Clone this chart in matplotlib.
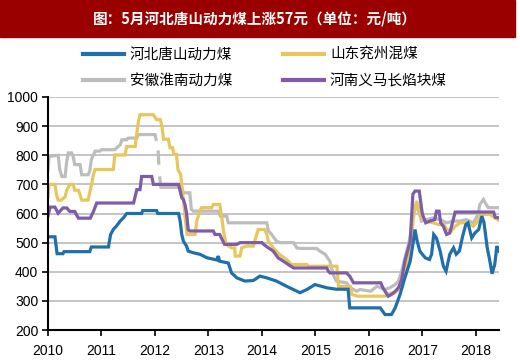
import numpy as np
import matplotlib
matplotlib.use("Agg")
import matplotlib.pyplot as plt
from matplotlib.patches import Rectangle

plt.rcParams['font.family'] = ['Liberation Sans', 'Noto Sans CJK SC', 'DejaVu Sans']

nan = np.nan

# 河北唐山动力煤
t_tangshan = [2010.00, 2010.13, 2010.17, 2010.28, 2010.30, 2010.78, 2010.81, 2011.13, 2011.17,
              2011.22, 2011.28, 2011.35, 2011.41, 2011.47, 2011.75, 2011.77, 2012.03, 2012.05,
              2012.44, 2012.47, 2012.50, 2012.53, 2012.59, 2012.62, 2012.72, 2012.84, 2012.97,
              2013.12, 2013.16, 2013.18, 2013.21, 2013.37, 2013.43, 2013.53, 2013.68, 2013.84,
              2013.96, 2014.09, 2014.27, 2014.46, 2014.71, 2014.84, 2014.99, 2015.11, 2015.21,
              2015.39, 2015.61, 2015.64, 2016.21, 2016.30, 2016.42, 2016.49, 2016.58, 2016.67,
              2016.77, 2016.83, 2016.86, 2016.90, 2016.95, 2017.05, 2017.13, 2017.17, 2017.21,
              2017.26, 2017.33, 2017.39, 2017.44, 2017.51, 2017.58, 2017.63, 2017.69, 2017.75,
              2017.81, 2017.85, 2017.92, 2017.98, 2018.05, 2018.11, 2018.15, 2018.21, 2018.26,
              2018.30, 2018.35, 2018.39, 2018.43]
v_tangshan = [520, 520, 462, 462, 469, 469, 485, 485, 528,
              545, 557, 574, 585, 600, 600, 610, 610, 600,
              600, 574, 528, 505, 488, 471, 465, 460, 448,
              442, 440, 454, 436, 430, 396, 379, 368, 370,
              385, 379, 368, 350, 328, 339, 356, 350, 345,
              340, 340, 276, 276, 253, 253, 276, 322, 379,
              436, 505, 545, 505, 471, 448, 442, 460, 528,
              516, 471, 419, 402, 460, 482, 460, 471, 522,
              562, 568, 516, 533, 545, 591, 568, 482, 436,
              393, 425, 488, 471]

# 山东兖州混煤
t_yanzhou = [2010.00, 2010.02, 2010.13, 2010.16, 2010.19, 2010.25, 2010.32, 2010.35, 2010.41,
             2010.47, 2010.50, 2010.57, 2010.60, 2010.63, 2010.75, 2010.77, 2010.82, 2010.85,
             2010.88, 2011.22, 2011.25, 2011.44, 2011.47, 2011.63, 2011.66, 2011.69, 2011.72,
             2011.97, 2012.03, 2012.10, 2012.13, 2012.16, 2012.25, 2012.28, 2012.33, 2012.35,
             2012.40, 2012.43, 2012.48, 2012.51, 2012.54, 2012.57, 2012.60, 2012.75, 2012.78,
             2012.84, 2012.87, 2013.06, 2013.09, 2013.21, 2013.25, 2013.28, 2013.33, 2013.43,
             2013.49, 2013.50, 2013.59, 2013.62, 2013.71, 2013.84, 2013.90, 2013.93, 2014.05,
             2014.09, 2014.12, 2014.21, 2014.33, 2014.46, 2014.55, 2014.84, 2014.87, 2015.40,
             2015.43, 2015.65, 2015.68, 2015.80, 2016.30, 2016.35, 2016.42, 2016.48, 2016.55,
             2016.61, 2016.67, 2016.73, 2016.80, 2016.83, 2016.89, 2016.94, 2016.98, 2017.08,
             2017.20, 2017.30, 2017.40, 2017.45, 2017.54, 2017.61, 2017.70, 2017.82, 2017.95,
             2018.04, 2018.10, 2018.26, 2018.35, 2018.43]
v_yanzhou = [659, 700, 700, 664, 646, 646, 657, 680, 700,
             700, 680, 680, 664, 646, 646, 664, 704, 734,
             751, 751, 801, 801, 830, 830, 876, 916, 939,
             939, 922, 922, 899, 855, 855, 826, 826, 803,
             803, 750, 734, 677, 631, 574, 528, 528, 574,
             608, 620, 620, 631, 631, 585, 540, 494, 482,
             482, 454, 454, 482, 488, 488, 528, 545, 545,
             528, 505, 482, 459, 442, 425, 425, 419, 419,
             350, 350, 322, 316, 316, 322, 327, 327, 339,
             356, 390, 448, 528, 585, 643, 614, 585, 574,
             568, 562, 562, 545, 540, 556, 568, 568, 556,
             574, 597, 597, 585, 576]

# 安徽淮南动力煤 (Lücken Anfang 2012)
t_huainan = [2010.00, 2010.02, 2010.19, 2010.22, 2010.26, 2010.32, 2010.35, 2010.38, 2010.44,
             2010.47, 2010.50, 2010.60, 2010.63, 2010.75, 2010.78, 2010.81, 2010.88, 2010.97,
             2011.00, 2011.25, 2011.28, 2011.35, 2011.38, 2011.47, 2011.50, 2011.66, 2011.69,
             2012.00, 2012.02, 2012.04, 2012.06, 2012.07, 2012.08, 2012.09, 2012.11, 2012.50,
             2012.53, 2012.65, 2012.68, 2012.72, 2013.19, 2013.22, 2013.34, 2013.37, 2014.09,
             2014.12, 2014.18, 2014.27, 2014.34, 2014.59, 2014.65, 2014.71, 2015.02, 2015.08,
             2015.18, 2015.27, 2015.33, 2015.39, 2015.58, 2015.65, 2015.77, 2015.83, 2016.03,
             2016.15, 2016.30, 2016.39, 2016.49, 2016.55, 2016.61, 2016.67, 2016.74, 2016.80,
             2016.83, 2016.88, 2016.94, 2016.98, 2017.08, 2017.20, 2017.33, 2017.45, 2017.58,
             2017.70, 2017.82, 2017.95, 2018.04, 2018.07, 2018.14, 2018.19, 2018.23, 2018.43]
v_huainan = [750, 796, 800, 750, 727, 727, 779, 808, 808,
             796, 768, 768, 733, 733, 745, 785, 814, 814,
             819, 819, 825, 836, 853, 853, 859, 859, 871,
             871, 855, nan, 811, 773, nan, 722, 690, 690,
             671, 671, 614, 608, 608, 591, 591, 568, 568,
             540, 528, 505, 500, 500, 482, 480, 480, 471,
             460, 436, 390, 368, 362, 345, 333, 339, 333,
             350, 339, 345, 356, 368, 402, 448, 494, 551,
             620, 631, 602, 574, 579, 585, 579, 568, 574,
             574, 579, 568, 597, 631, 648, 631, 620, 620]

# 河南义马长焰块煤
t_yima = [2010.00, 2010.04, 2010.13, 2010.19, 2010.25, 2010.28, 2010.35, 2010.41, 2010.50,
          2010.53, 2010.57, 2010.79, 2010.85, 2010.91, 2011.60, 2011.63, 2011.66, 2011.72,
          2011.75, 2011.94, 2011.97, 2012.44, 2012.50, 2012.53, 2012.56, 2012.59, 2012.62,
          2012.65, 2013.09, 2013.12, 2013.21, 2013.27, 2013.30, 2013.53, 2013.59, 2014.00,
          2014.03, 2014.12, 2014.21, 2014.30, 2014.40, 2014.49, 2014.59, 2015.21, 2015.24,
          2015.27, 2015.58, 2015.64, 2015.71, 2016.22, 2016.26, 2016.30, 2016.36, 2016.42,
          2016.49, 2016.55, 2016.61, 2016.67, 2016.72, 2016.77, 2016.82, 2016.86, 2016.94,
          2016.98, 2017.00, 2017.06, 2017.14, 2017.23, 2017.26, 2017.31, 2017.34, 2017.39,
          2017.45, 2017.51, 2017.56, 2017.61, 2018.07, 2018.33, 2018.36, 2018.43]
v_yima = [592, 622, 622, 601, 613, 619, 619, 607, 607,
          596, 584, 584, 607, 636, 636, 659, 682, 682,
          727, 727, 700, 700, 654, 648, 631, 602, 545,
          540, 540, 528, 528, 505, 494, 494, 500, 500,
          494, 482, 471, 448, 436, 425, 413, 413, 402,
          396, 396, 385, 362, 362, 345, 333, 316, 322,
          333, 345, 373, 436, 471, 505, 666, 677, 677,
          620, 597, 568, 574, 579, 608, 608, 568, 556,
          528, 533, 568, 605, 605, 605, 587, 585]

names = ['河北唐山动力煤', '山东兖州混煤', '安徽淮南动力煤', '河南义马长焰块煤']
colors = ['#1f6fab', '#e8c65c', '#bdbdbd', '#7e5ca8']
series = [(t_tangshan, v_tangshan), (t_yanzhou, v_yanzhou),
          (t_huainan, v_huainan), (t_yima, v_yima)]
years = list(range(2010, 2019))

fig = plt.figure(figsize=(5.2, 3.64), dpi=100)
ax = fig.add_axes([48 / 520, 34 / 364, 451 / 520, 233 / 364])

# Titelbalken
fig.patches.append(Rectangle((0, 1 - 37 / 364), 515 / 520, 37 / 364,
                             transform=fig.transFigure, color='#9b0000', zorder=0))
fig.text(255 / 520, 1 - 18 / 364, '图：5月河北唐山动力煤上涨57元（单位：元/吨）',
         color='white', fontsize=10.5, fontweight='bold', ha='center', va='center',
         family=['Noto Sans CJK SC', 'DejaVu Sans'])

# Reihenfolge: grau und gelb unten, blau und lila oben
order = [2, 1, 0, 3]
handles = [None] * 4
for i in order:
    t, v = series[i]
    ln, = ax.plot(t, v, color=colors[i], lw=2.3, label=names[i], zorder=3,
                  solid_joinstyle='miter')
    handles[i] = ln

ax.set_xlim(2010, 2018.43)
ax.set_ylim(200, 1000)
ax.set_yticks(range(200, 1001, 100))
ax.set_xticks(years)
ax.set_xticklabels([str(y) for y in years])
ax.grid(axis='y', color='#c4c4c4', lw=1.4, zorder=0)
ax.set_axisbelow(True)
for s in ['top', 'right']:
    ax.spines[s].set_visible(False)
for s in ['left', 'bottom']:
    ax.spines[s].set_linewidth(1.5)
    ax.spines[s].set_color('black')
    ax.spines[s].set_zorder(4)
ax.tick_params(direction='out', length=4, width=1.2, labelsize=10, colors='black')
ax.tick_params(axis='x', pad=6)
ax.tick_params(axis='y', pad=3)

# Legende zeilenweise: matplotlib füllt spaltenweise, daher umsortieren
leg_idx = [0, 2, 1, 3]
leg = fig.legend(handles=[handles[i] for i in leg_idx], labels=[names[i] for i in leg_idx],
                 ncol=2, loc='center',
                 bbox_to_anchor=(265 / 520, 1 - 68 / 364), frameon=False,
                 prop={'family': ['Noto Sans CJK SC', 'DejaVu Sans'], 'size': 10.5},
                 handlelength=2.8, handletextpad=0.4, columnspacing=3.5,
                 labelspacing=0.8)
for ln in leg.get_lines():
    ln.set_linewidth(3)

fig.savefig('out.png', dpi=100)
